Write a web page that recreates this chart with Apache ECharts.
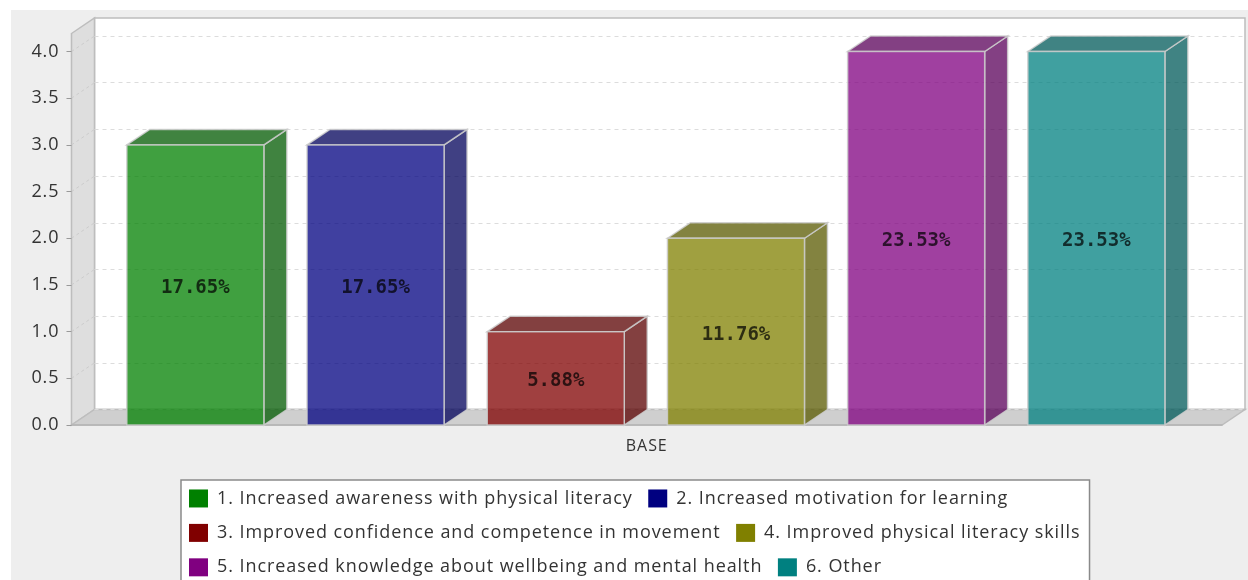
<!DOCTYPE html>
<html>
<head>
<meta charset="utf-8">
<style>
  html, body { margin: 0; padding: 0; background: #fff; overflow: hidden; }
  #panel { position: absolute; left: 11px; top: 10px; width: 1237px; height: 570px; background: #eeeeee; }
  #chart { position: absolute; left: 0; top: 0; width: 1248px; height: 580px; }
</style>
<script src="https://cdn.jsdelivr.net/npm/echarts@6/dist/echarts.min.js"></script>
</head>
<body>
<div id="panel"></div>
<div id="chart"></div>
<script>
// Responses per outcome, one bar each, under a single category.
const categories = ['BASE'];
const seriesNames = [
  '1. Increased awareness with physical literacy',
  '2. Increased motivation for learning',
  '3. Improved confidence and competence in movement',
  '4. Improved physical literacy skills',
  '5. Increased knowledge about wellbeing and mental health',
  '6. Other'
];
const seriesValues = [3, 3, 1, 2, 4, 4];
const seriesColors = ['#008000', '#000080', '#800000', '#808000', '#800080', '#008080'];
const gridTicks = [0.5, 1, 1.5, 2, 2.5, 3, 3.5, 4];

// Pseudo-3D box geometry
const DEPTH_X = 23;
const DEPTH_Y = 15.5;
const HEADROOM = 18;
const BAR_PITCH = 0.15663;  // share of the category band
const BAR_WIDTH = 0.1191;
const BAR_SHIFT = -0.9;
const FACE_OPACITY = 0.75;
const EDGE = 'rgba(205,205,205,0.85)';
const FONT = '"Open Sans", sans-serif';
const TRACKING = '0.93px';

// Axis and legend text is set with wide tracking; the canvas context has a
// property for it, but ECharts never sets it, so apply it per font here.
(function () {
  const proto = CanvasRenderingContext2D.prototype;
  const fill = proto.fillText;
  const measure = proto.measureText;
  const applyTracking = ctx => {
    ctx.letterSpacing = ctx.font.indexOf('Open Sans') >= 0 ? TRACKING : '0px';
  };
  proto.fillText = function (...args) {
    applyTracking(this);
    return fill.apply(this, args);
  };
  proto.measureText = function (...args) {
    applyTracking(this);
    return measure.apply(this, args);
  };
})();

const total = seriesValues.reduce((a, b) => a + b, 0);

function darker(hex) {
  const n = parseInt(hex.slice(1), 16);
  const c = [(n >> 16) & 255, (n >> 8) & 255, n & 255].map(v => Math.round(v * 0.7));
  return 'rgb(' + c.join(',') + ')';
}

function poly(points, style, z2) {
  return { type: 'polygon', shape: { points }, style, z2: z2 || 0 };
}

function boxSeries(name, idx) {
  return {
    type: 'custom',
    name,
    xAxisIndex: 0,
    yAxisIndex: 0,
    clip: false,
    silent: true,
    z: 3,
    itemStyle: { color: seriesColors[idx] },
    data: [[0, seriesValues[idx]]],
    encode: { x: 0, y: 1 },
    renderItem(params, api) {
      const value = api.value(1);
      const top = api.coord([0, value]);
      const base = api.coord([0, 0]);
      const band = api.size([1, 0])[0];
      const w = band * BAR_WIDTH;
      const x0 = top[0] + (idx - 2.5) * band * BAR_PITCH - w / 2 + BAR_SHIFT;
      const x1 = x0 + w;
      const y0 = top[1];
      const y1 = base[1];
      const side = darker(seriesColors[idx]);
      const edge = { stroke: EDGE, lineWidth: 1.5, opacity: 1 };
      const pct = (value / total * 100).toFixed(2) + '%';
      return {
        type: 'group',
        children: [
          poly([[x1, y0], [x1 + DEPTH_X, y0 - DEPTH_Y], [x1 + DEPTH_X, y1 - DEPTH_Y], [x1, y1]],
            Object.assign({ fill: side, fillOpacity: FACE_OPACITY }, edge), 1),
          poly([[x0, y0], [x0 + DEPTH_X, y0 - DEPTH_Y], [x1 + DEPTH_X, y0 - DEPTH_Y], [x1, y0]],
            Object.assign({ fill: side, fillOpacity: FACE_OPACITY }, edge), 1),
          poly([[x0, y0], [x1, y0], [x1, y1], [x0, y1]],
            Object.assign({ fill: seriesColors[idx], fillOpacity: FACE_OPACITY }, edge), 2),
          {
            type: 'text',
            z2: 3,
            style: {
              x: (x0 + x1) / 2,
              y: (y0 + y1) / 2 + 3,
              text: pct,
              align: 'center',
              verticalAlign: 'middle',
              fill: 'rgba(0,0,0,0.72)',
              font: 'bold 19px "DejaVu Sans Mono", monospace'
            }
          }
        ]
      };
    }
  };
}

// Back wall, side wall and floor of the plot box.
const wallSeries = {
  type: 'custom',
  name: 'walls',
  xAxisIndex: 0,
  yAxisIndex: 0,
  clip: false,
  silent: true,
  z: -1,
  data: [0],
  renderItem(params) {
    const c = params.coordSys;
    const l = c.x, r = c.x + c.width, t = c.y - HEADROOM, b = c.y + c.height;
    const outline = { stroke: '#bdbdbd', lineWidth: 1.5 };
    return {
      type: 'group',
      children: [
        poly([[l + DEPTH_X, t - DEPTH_Y], [r + DEPTH_X, t - DEPTH_Y], [r + DEPTH_X, b - DEPTH_Y], [l + DEPTH_X, b - DEPTH_Y]],
          Object.assign({ fill: '#ffffff' }, outline)),
        poly([[l, t], [l + DEPTH_X, t - DEPTH_Y], [l + DEPTH_X, b - DEPTH_Y], [l, b]],
          Object.assign({ fill: '#dedede' }, outline)),
        poly([[l, b], [l + DEPTH_X, b - DEPTH_Y], [r + DEPTH_X, b - DEPTH_Y], [r, b]],
          Object.assign({ fill: '#cfcfcf' }, outline))
      ]
    };
  }
};

// Faint dashed links from each tick across the side wall.
const wallGridSeries = {
  type: 'custom',
  name: 'wallGrid',
  xAxisIndex: 0,
  yAxisIndex: 0,
  clip: false,
  silent: true,
  z: -1,
  data: gridTicks.map(v => [0, v]),
  encode: { x: 0, y: 1 },
  renderItem(params, api) {
    const c = params.coordSys;
    const y = api.coord([0, api.value(1)])[1];
    return {
      type: 'line',
      z2: 5,
      shape: { x1: c.x, y1: y, x2: c.x + DEPTH_X, y2: y - DEPTH_Y },
      style: { stroke: '#cccccc', lineWidth: 1, lineDash: [3, 3] }
    };
  }
};

const chart = echarts.init(document.getElementById('chart'), null, { renderer: 'canvas' });
chart.setOption({
  animation: false,
  backgroundColor: 'transparent',
  grid: [
    { left: 71.5, width: 1150.5, top: 51.5, height: 373.5 },
    { left: 94.5, width: 1150.5, top: 36, height: 373.5 }
  ],
  xAxis: [
    {
      type: 'category',
      gridIndex: 0,
      data: categories,
      axisLine: { lineStyle: { color: '#b5b5b5', width: 1.5 } },
      axisTick: { show: false },
      axisLabel: { color: '#333', fontFamily: FONT, fontSize: 16, margin: 13 }
    },
    { type: 'category', gridIndex: 1, data: categories, show: false }
  ],
  yAxis: [
    {
      type: 'value',
      gridIndex: 0,
      min: 0,
      max: 4,
      interval: 0.5,
      splitLine: { show: false },
      axisLine: { show: false },
      axisTick: { show: true, length: 5, lineStyle: { color: '#999' } },
      axisLabel: {
        color: '#333',
        fontFamily: FONT,
        fontSize: 18,
        margin: 12,
        formatter: v => v.toFixed(1)
      }
    },
    {
      type: 'value',
      gridIndex: 1,
      min: 0,
      max: 4,
      interval: 0.5,
      axisLine: { show: false },
      axisTick: { show: false },
      axisLabel: { show: false },
      splitLine: { show: true, lineStyle: { color: '#dcdcdc', type: [4, 4], width: 1 } }
    }
  ],
  legend: {
    left: 181,
    top: 480,
    width: 905,
    orient: 'horizontal',
    padding: [9, 9, 20, 8],
    backgroundColor: '#ffffff',
    borderColor: '#8a8a8a',
    borderWidth: 1.5,
    borderRadius: 0,
    itemWidth: 19,
    itemHeight: 18,
    itemGap: 15.5,
    icon: 'rect',
    selectedMode: false,
    data: seriesNames,
    textStyle: { color: '#333', fontFamily: FONT, fontSize: 18, padding: [0, 0, 0, 4] }
  },
  series: [wallSeries, wallGridSeries].concat(seriesNames.map(boxSeries))
});
</script>
</body>
</html>
